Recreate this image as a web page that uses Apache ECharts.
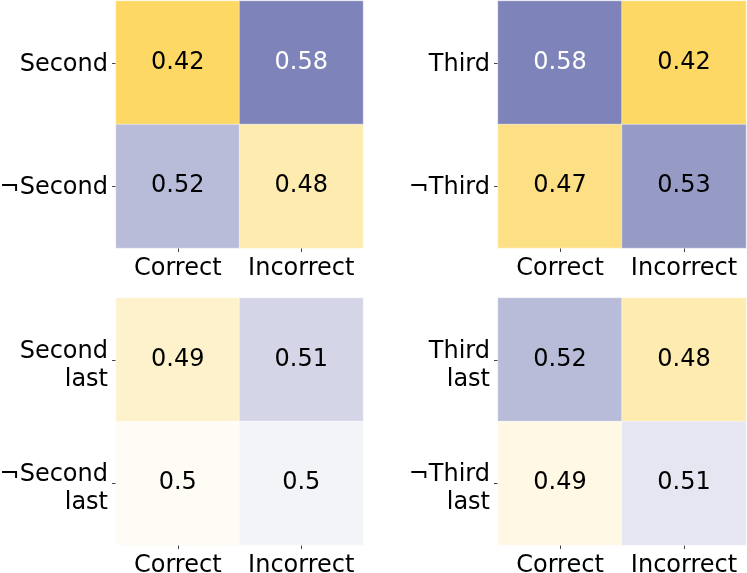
<!DOCTYPE html>
<html>
<head>
<meta charset="utf-8">
<script src="https://cdn.jsdelivr.net/npm/echarts@6/dist/echarts.min.js"></script>
<style>
  html, body { margin: 0; padding: 0; background: #fff; }
  #chart { width: 747px; height: 573px; }
</style>
</head>
<body>
<div id="chart"></div>
<script>
// column labels shared by all panels
var colLabels = ['Correct', 'Incorrect'];

// row labels per panel
var rowsSecond = ['Second', '\u00acSecond'];
var rowsThird = ['Third', '\u00acThird'];
var rowsSecondLast = ['Second\nlast', '\u00acSecond\nlast'];
var rowsThirdLast = ['Third\nlast', '\u00acThird\nlast'];

// cell values, row by row (Correct, Incorrect); shown rounded to 2 decimals
var valsSecond = [[0.42, 0.58], [0.52, 0.48]];
var valsThird = [[0.58, 0.42], [0.47, 0.53]];
var valsSecondLast = [[0.487, 0.512], [0.497, 0.503]];
var valsThirdLast = [[0.52, 0.48], [0.493, 0.507]];

var panels = [
  { rows: rowsSecond, vals: valsSecond, left: 116, top: 1, w: 247, pad: 4 },
  { rows: rowsThird, vals: valsThird, left: 498, top: 1, w: 248, pad: 4 },
  { rows: rowsSecondLast, vals: valsSecondLast, left: 116, top: 298, w: 247, pad: 12 },
  { rows: rowsThirdLast, vals: valsThirdLast, left: 498, top: 298, w: 248, pad: 12 }
];

var font = 'DejaVu Sans';
var grids = [], xAxes = [], yAxes = [], series = [];

panels.forEach(function (p, i) {
  grids.push({ left: p.left, top: p.top, width: p.w, height: 247, containLabel: false, outerBoundsMode: 'none' });
  xAxes.push({
    type: 'category', gridIndex: i, data: colLabels,
    axisLine: { show: false },
    axisTick: { show: true, alignWithLabel: true, length: 4, lineStyle: { color: '#444', width: 1 } },
    axisLabel: { interval: 0, fontFamily: font, fontSize: 24, color: '#000', margin: 9 },
    splitLine: { show: false }
  });
  // a thin blank line on top nudges the text block down a little
  yAxes.push({
    type: 'category', gridIndex: i, data: p.rows, inverse: true,
    axisLine: { show: false },
    axisTick: { show: true, alignWithLabel: true, length: 4, lineStyle: { color: '#444', width: 1 } },
    axisLabel: {
      interval: 0, fontFamily: font, fontSize: 24, color: '#000', margin: 8,
      lineHeight: 28, align: 'right',
      formatter: function (v) {
        return '{s| }\n' + v.split('\n').map(function (s) {
          return '{a|' + s + '}';
        }).join('\n');
      },
      rich: {
        a: { fontFamily: font, fontSize: 24, color: '#000', lineHeight: 28, align: 'right' },
        s: { fontFamily: font, fontSize: 2, lineHeight: p.pad, align: 'right' }
      }
    },
    splitLine: { show: false }
  });
  var data = [];
  p.vals.forEach(function (row, r) {
    row.forEach(function (v, c) {
      data.push({
        value: [c, r, v],
        label: { color: v >= 0.55 ? '#fff' : '#000' }
      });
    });
  });
  series.push({
    type: 'heatmap', xAxisIndex: i, yAxisIndex: i, data: data,
    itemStyle: { borderColor: 'rgba(255,255,255,0.7)', borderWidth: 0.6 },
    label: {
      show: true, fontFamily: font, fontSize: 24,
      formatter: function (q) { return String(Math.round(q.value[2] * 100) / 100); }
    },
    emphasis: { disabled: true }
  });
});

var chart = echarts.init(document.getElementById('chart'), null, { renderer: 'canvas' });
chart.setOption({
  animation: false,
  backgroundColor: '#fff',
  grid: grids,
  xAxis: xAxes,
  yAxis: yAxes,
  visualMap: {
    show: false, type: 'continuous', dimension: 2,
    seriesIndex: [0, 1, 2, 3],
    min: 0.462, max: 0.537,
    inRange: { color: ['#fdd865', '#ffffff', '#7e84b9'] }
  },
  series: series
});
</script>
</body>
</html>
